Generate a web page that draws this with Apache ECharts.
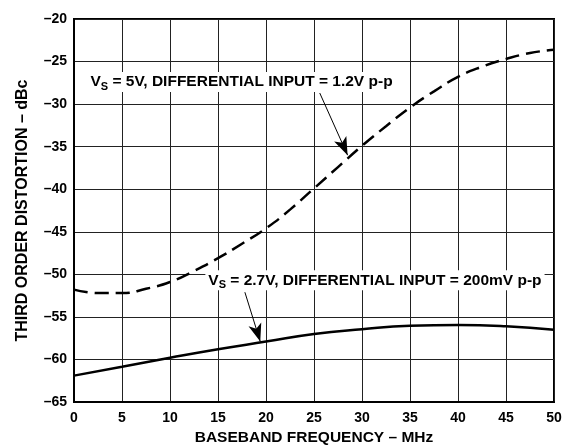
<!DOCTYPE html>
<html><head><meta charset="utf-8">
<script src="https://cdn.jsdelivr.net/npm/echarts@6/dist/echarts.min.js"></script>
<style>html,body{margin:0;padding:0;background:#fff}#c{width:562px;height:445px}</style>
</head><body><div id="c"></div>
<script>
// Data
const xTicks = [0,5,10,15,20,25,30,35,40,45,50];
const freq5V = [0,2.5,5,7.5,10,12.5,15,17.5,20,22.5,25,27.5,30,32.5,35,37.5,40,42.5,45,47.5,50];
const dist5V = [-51.8,-52.2,-52.2,-51.7,-50.9,-49.6,-48.1,-46.4,-44.6,-42.4,-39.9,-37.4,-34.9,-32.6,-30.4,-28.5,-26.8,-25.6,-24.7,-24.0,-23.6];
const freq27V = [0,5,10,15,20,25,30,35,40,45,50];
const dist27V = [-61.9,-60.85,-59.8,-58.8,-57.9,-57.0,-56.45,-56.05,-55.95,-56.1,-56.5];
const label5V = ['V','S',' = 5V, DIFFERENTIAL INPUT = 1.2V p-p'];
const label27V = ['V','S',' = 2.7V, DIFFERENTIAL INPUT = 200mV p-p'];
const labelPos5V = [17.45,-27.4];
const labelPos27V = [31.35,-50.7];
const arrow5V = [[25.6,-28.7],[28.5,-36.0]];
const arrow27V = [[17.8,-52.1],[19.4,-57.9]];

const FONT = 'Liberation Sans, Arial, Helvetica, sans-serif';
const pairs = (xs, ys) => xs.map((x,i)=>[x,ys[i]]);
const rich = {
  a:{fontFamily:FONT,fontWeight:'bold',fontSize:15.5,color:'#000',lineHeight:20},
  s:{fontFamily:FONT,fontWeight:'bold',fontSize:11,color:'#000',lineHeight:20,padding:[9,0,0,0]}
};
function labelPoint(pos, parts){
  return {coord:pos, symbol:'circle', symbolSize:1, itemStyle:{color:'rgba(0,0,0,0)'},
    label:{show:true, position:'inside', formatter:'{a|'+parts[0]+'}{s|'+parts[1]+'}{a|'+parts[2]+'}',
      rich:rich, backgroundColor:'#fff', padding:[0,3,0,3]}};
}
function arrowLine(a){
  return [{coord:a[0], symbol:'none'},{coord:a[1], symbol:'arrow', symbolSize:[10,18]}];
}
const chart = echarts.init(document.getElementById('c'), null, {renderer:'canvas'});
chart.setOption({
  animation:false,
  backgroundColor:'#fff',
  grid:{left:74,right:8,top:19,bottom:43,containLabel:false,outerBoundsMode:'none',
    show:true,borderColor:'#000',borderWidth:2,backgroundColor:'transparent'},
  xAxis:{type:'value',min:0,max:50,interval:5,
    name:'BASEBAND FREQUENCY \u2013 MHz',nameLocation:'middle',nameGap:27,
    nameTextStyle:{fontFamily:FONT,fontWeight:'bold',fontSize:15.5,color:'#000'},
    axisLine:{show:true,lineStyle:{color:'#000',width:2}},axisTick:{show:false},
    axisLabel:{fontFamily:FONT,fontWeight:'bold',fontSize:14,color:'#000',margin:9,
      formatter:v=>xTicks.includes(v)?String(v):''},
    splitLine:{show:true,lineStyle:{color:'#222',width:1}}},
  yAxis:{type:'value',min:-65,max:-20,interval:5,
    name:'THIRD ORDER DISTORTION \u2013 dBc',nameLocation:'middle',nameGap:43,
    nameTextStyle:{fontFamily:FONT,fontWeight:'bold',fontSize:16,color:'#000'},
    axisLine:{show:true,lineStyle:{color:'#000',width:2}},axisTick:{show:false},
    axisLabel:{fontFamily:FONT,fontWeight:'bold',fontSize:14,color:'#000',margin:7,
      formatter:v=>v<0?'\u2013'+Math.abs(v):String(v)},
    splitLine:{show:true,lineStyle:{color:'#222',width:1}}},
  series:[
    {type:'line',data:pairs(freq5V,dist5V),smooth:true,symbol:'none',
      lineStyle:{color:'#000',width:2.5,type:[14,7]},z:3,
      markPoint:{data:[labelPoint(labelPos5V,label5V)],z:5},
      markLine:{silent:true,lineStyle:{color:'#000',width:1,type:'solid'},label:{show:false},
        data:[arrowLine(arrow5V)]}},
    {type:'line',data:pairs(freq27V,dist27V),smooth:true,symbol:'none',
      lineStyle:{color:'#000',width:2.5,type:'solid'},z:3,
      markPoint:{data:[labelPoint(labelPos27V,label27V)],z:5},
      markLine:{silent:true,lineStyle:{color:'#000',width:1,type:'solid'},label:{show:false},
        data:[arrowLine(arrow27V)]}}
  ]
});
</script></body></html>
